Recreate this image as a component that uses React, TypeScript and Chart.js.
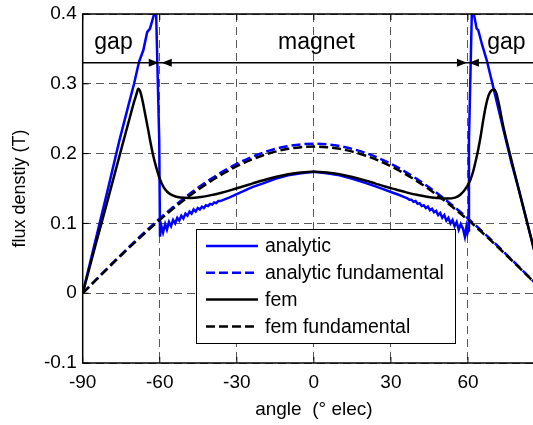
import React, { useEffect, useRef } from 'react';
import { Chart, registerables } from 'chart.js';

Chart.register(...registerables);

// ---------- data ----------
const seriesNames = ['analytic', 'analytic fundamental', 'fem', 'fem fundamental'];

const xTickValues = [-90, -60, -30, 0, 30, 60, 90];
const yTickValues = [-0.1, 0, 0.1, 0.2, 0.3, 0.4];

const analyticAngles = [
  -90, -85, -80, -75.7, -72, -70, -68.1, -66.4, -64.9, -63.8, -62.1, -61.8, -61.4, -60.2, -59.9,
  -59.4, -58.7, -57.9, -57.2, -56.4, -55.6, -54.8, -54.0, -53.2, -52.4, -51.6, -50.8, -50.0,
  -49.2, -48.4, -47.6, -46.8, -46.0, -45.2, -44.4, -43.6, -42.8, -42.0, -41.2, -40.4, -39.6,
  -38.8, -38.0, -37.2, -36.4, -35.0, -33, -30, -27, -24, -20, -15, -10, -5, 0,
  5, 10, 15, 20, 24, 27, 30, 33, 35, 36.4, 37.2, 38.0, 38.8, 39.6, 40.4, 41.2, 42.0, 42.8,
  43.6, 44.4, 45.2, 46.0, 46.8, 47.6, 48.4, 49.2, 50.0, 50.8, 51.6, 52.4, 53.2, 54.0, 54.8,
  55.6, 56.4, 57.2, 58.1, 58.8, 59.4, 59.8, 60.1, 60.4, 61.5, 61.9, 62.3, 63.4, 64.0, 65.5,
  67.3, 69.8, 73.7, 77, 80, 85, 90,
];
const analyticValues = [
  0, 0.076, 0.152, 0.219, 0.272, 0.300, 0.331, 0.348, 0.374, 0.379, 0.401, 0.42, 0.40, 0.219, 0.081,
  0.097, 0.087, 0.099, 0.091, 0.102, 0.096, 0.105, 0.100, 0.108, 0.104, 0.111, 0.107, 0.114,
  0.111, 0.117, 0.114, 0.120, 0.117, 0.122, 0.120, 0.124, 0.122, 0.126, 0.125, 0.128, 0.127,
  0.130, 0.129, 0.132, 0.132, 0.134, 0.137, 0.142, 0.147, 0.152, 0.157, 0.164, 0.169, 0.172, 0.174,
  0.172, 0.169, 0.164, 0.158, 0.153, 0.149, 0.145, 0.141, 0.138, 0.136, 0.134, 0.134, 0.131, 0.132, 0.128,
  0.129, 0.125, 0.126, 0.122, 0.124, 0.119, 0.121, 0.116, 0.118, 0.112, 0.115, 0.108, 0.112, 0.104,
  0.108, 0.100, 0.105, 0.096, 0.102, 0.091, 0.099, 0.092, 0.081, 0.095, 0.086, 0.09, 0.219, 0.40,
  0.42, 0.40, 0.379, 0.377, 0.356, 0.334, 0.296, 0.236, 0.186, 0.146, 0.073, 0,
];

const femAngles = [
  -90, -85, -80, -75, -72, -70, -69, -68.4, -67.6, -66.6, -65.5, -64.5, -63.5, -62.6, -61.5, -60,
  -58.5, -57, -55, -52, -48, -44, -40, -36, -32, -28, -24, -20, -15, -10, -5, 0,
  5, 10, 15, 20, 24, 28, 32, 36, 40, 44, 48, 51.7, 55, 57, 59.5, 61, 62, 63, 64, 65, 66, 67, 68,
  69, 70.2, 71, 72, 73.7, 76.3, 80, 85, 90,
];
const femValues = [
  0, 0.069, 0.137, 0.206, 0.247, 0.274, 0.286, 0.293, 0.289, 0.274, 0.253, 0.234, 0.214, 0.198, 0.182, 0.164,
  0.152, 0.145, 0.140, 0.137, 0.1365, 0.1378, 0.1405, 0.1440, 0.1480, 0.1525, 0.1570, 0.1615, 0.1665, 0.1705, 0.1730, 0.174,
  0.1730, 0.1705, 0.1665, 0.1615, 0.1570, 0.1525, 0.1485, 0.1445, 0.1410, 0.1383, 0.1365, 0.1356, 0.137, 0.141, 0.152, 0.163, 0.174, 0.189, 0.206, 0.226, 0.249, 0.269, 0.283,
  0.290, 0.292, 0.287, 0.272, 0.240, 0.200, 0.145, 0.073, 0,
];

const fundAngles = [
  -90, -85, -80, -75, -70, -65, -60, -55, -50, -45, -40, -35, -30, -25, -20, -15, -10, -5, 0,
  5, 10, 15, 20, 25, 30, 35, 40, 45, 50, 55, 60, 65, 70, 75, 80, 85, 90,
];
const analyticFundValues = [
  0, 0.0187, 0.0372, 0.0554, 0.0732, 0.0904, 0.107, 0.1227, 0.1376, 0.1513, 0.1639, 0.1753, 0.1853,
  0.1939, 0.2011, 0.2067, 0.2107, 0.2132, 0.214,
  0.2132, 0.2107, 0.2067, 0.2011, 0.1939, 0.1853, 0.1753, 0.1639, 0.1513, 0.1376, 0.1227, 0.107,
  0.0904, 0.0732, 0.0554, 0.0372, 0.0187, 0,
];
const femFundValues = [
  0, 0.0183, 0.0365, 0.0544, 0.0718, 0.0887, 0.105, 0.1205, 0.135, 0.1485, 0.1609, 0.172, 0.1819,
  0.1903, 0.1973, 0.2028, 0.2068, 0.2092, 0.21,
  0.2092, 0.2068, 0.2028, 0.1973, 0.1903, 0.1819, 0.172, 0.1609, 0.1485, 0.135, 0.1205, 0.105,
  0.0887, 0.0718, 0.0544, 0.0365, 0.0183, 0,
];

// region annotations
const regionLabels = ['gap', 'magnet', 'gap'];
const regionBounds = [-90, -60, 60, 90];
const regionLabelCenters = [-78, 1, 75];
const regionArrowLevel = 0.33;
const regionLabelLevel = 0.35;

// ---------- styles ----------
const FONT = "'Liberation Sans', Arial, Helvetica, sans-serif";
const GRID = 'rgba(60,60,60,0.85)';

const zip = (xs: number[], ys: number[]) => xs.map((x, i) => ({ x, y: ys[i] }));

const decorPlugin = {
  id: 'decor',
  afterDatasetsDraw(chart: any) {
    const { ctx, chartArea: a, scales } = chart;
    const xs = scales.x;
    const ys = scales.y;
    ctx.save();
    // frame
    ctx.strokeStyle = '#000';
    ctx.lineWidth = 1.5;
    ctx.setLineDash([]);
    ctx.strokeRect(a.left, a.top, a.right - a.left, a.bottom - a.top);
    // inner ticks
    ctx.lineWidth = 1;
    const tl = 6;
    xTickValues.forEach((v) => {
      const px = xs.getPixelForValue(v);
      ctx.beginPath();
      ctx.moveTo(px, a.bottom); ctx.lineTo(px, a.bottom - tl);
      ctx.moveTo(px, a.top); ctx.lineTo(px, a.top + tl);
      ctx.stroke();
    });
    yTickValues.forEach((v) => {
      const py = ys.getPixelForValue(v);
      ctx.beginPath();
      ctx.moveTo(a.left, py); ctx.lineTo(a.left + tl, py);
      ctx.moveTo(a.right, py); ctx.lineTo(a.right - tl, py);
      ctx.stroke();
    });
    // arrows
    const ay = ys.getPixelForValue(regionArrowLevel);
    ctx.lineWidth = 1.5;
    ctx.beginPath();
    ctx.moveTo(xs.getPixelForValue(regionBounds[0]), ay);
    ctx.lineTo(xs.getPixelForValue(regionBounds[regionBounds.length - 1]), ay);
    ctx.stroke();
    const head = (tipX: number, dir: number) => {
      ctx.beginPath();
      ctx.moveTo(tipX, ay);
      ctx.lineTo(tipX - dir * 10, ay - 4);
      ctx.lineTo(tipX - dir * 10, ay + 4);
      ctx.closePath();
      ctx.fill();
    };
    ctx.fillStyle = '#000';
    const b1 = xs.getPixelForValue(regionBounds[1]);
    const b2 = xs.getPixelForValue(regionBounds[2]);
    head(b1 - 1, 1);
    head(b1 + 2, -1);
    head(b2 - 1, 1);
    head(b2 + 1, -1);
    // labels
    ctx.font = `23px ${FONT}`;
    ctx.textAlign = 'center';
    ctx.textBaseline = 'alphabetic';
    const ly = ys.getPixelForValue(regionLabelLevel);
    regionLabels.forEach((t, i) => {
      ctx.fillText(t, xs.getPixelForValue(regionLabelCenters[i]), ly);
    });
    ctx.restore();
  },
  afterDraw(chart: any) {
    const { ctx } = chart;
    ctx.save();
    const lx = 188, ly = 229, lw = 259, lh = 114;
    ctx.fillStyle = '#fff';
    ctx.fillRect(lx, ly, lw, lh);
    ctx.strokeStyle = '#000';
    ctx.lineWidth = 1;
    ctx.setLineDash([]);
    ctx.strokeRect(lx + 0.5, ly + 0.5, lw, lh);
    ctx.font = `19.5px ${FONT}`;
    ctx.textBaseline = 'middle';
    ctx.textAlign = 'left';
    chart.data.datasets.forEach((ds: any, i: number) => {
      const ry = ly + 17 + i * 26.8;
      ctx.strokeStyle = ds.borderColor;
      ctx.lineWidth = ds.borderWidth;
      ctx.setLineDash(ds.borderDash || []);
      ctx.beginPath();
      ctx.moveTo(lx + 10, ry);
      ctx.lineTo(lx + 62, ry);
      ctx.stroke();
      ctx.setLineDash([]);
      ctx.fillStyle = '#000';
      ctx.fillText(ds.label, lx + 69, ry + 1);
    });
    ctx.restore();
  },
};

export default function App() {
  const ref = useRef<HTMLCanvasElement | null>(null);

  useEffect(() => {
    document.documentElement.style.overflow = 'hidden';
    const canvas = ref.current;
    if (!canvas) return;
    const tickFont = { family: FONT, size: 19 };
    const chart = new Chart(canvas, {
      type: 'line',
      data: {
        datasets: [
          {
            label: seriesNames[0],
            data: zip(analyticAngles, analyticValues),
            borderColor: '#0000ff',
            borderWidth: 2.5,
            pointRadius: 0,
            tension: 0,
            order: 4,
          },
          {
            label: seriesNames[1],
            data: zip(fundAngles, analyticFundValues),
            borderColor: '#0000ff',
            borderWidth: 2.5,
            borderDash: [9, 4],
            pointRadius: 0,
            cubicInterpolationMode: 'monotone',
            order: 3,
          },
          {
            label: seriesNames[2],
            data: zip(femAngles, femValues),
            borderColor: '#000000',
            borderWidth: 2.5,
            pointRadius: 0,
            cubicInterpolationMode: 'monotone',
            order: 2,
          },
          {
            label: seriesNames[3],
            data: zip(fundAngles, femFundValues),
            borderColor: '#000000',
            borderWidth: 2.5,
            borderDash: [9, 4],
            pointRadius: 0,
            cubicInterpolationMode: 'monotone',
            order: 1,
          },
        ],
      },
      options: {
        animation: false,
        responsive: false,
        maintainAspectRatio: false,
        layout: { padding: { left: 0, top: 14, right: 23, bottom: 0 } },
        plugins: { legend: { display: false }, tooltip: { enabled: false } },
        scales: {
          x: {
            type: 'linear',
            min: -90,
            max: 90,
            afterBuildTicks: (s: any) => {
              s.ticks = xTickValues.map((v) => ({ value: v }));
            },
            afterFit: (s: any) => {
              s.height = 62;
              s.paddingLeft = 0;
              s.paddingRight = 0;
            },
            ticks: {
              color: '#000',
              font: tickFont,
              padding: 8,
              maxRotation: 0,
              autoSkip: false,
              callback: (v: any) => String(v),
            },
            grid: { color: GRID, lineWidth: 1, drawTicks: false },
            border: { display: false, dash: [8, 5] },
            title: {
              display: true,
              text: 'angle  (° elec)',
              color: '#000',
              font: tickFont,
              padding: { top: 0, bottom: 4 },
            },
          },
          y: {
            type: 'linear',
            min: -0.1,
            max: 0.4,
            afterBuildTicks: (s: any) => {
              s.ticks = yTickValues.map((v) => ({ value: v }));
            },
            afterFit: (s: any) => {
              s.width = 74.7;
              s.paddingTop = 0;
              s.paddingBottom = 0;
            },
            ticks: {
              color: '#000',
              font: tickFont,
              padding: 6,
              callback: (v: any) => String(Math.round(Number(v) * 10) / 10),
            },
            grid: { color: GRID, lineWidth: 1, drawTicks: false },
            border: { display: false, dash: [8, 5] },
            title: {
              display: true,
              text: 'flux denstiy (T)',
              color: '#000',
              font: { family: FONT, size: 18 },
              padding: { top: 1, bottom: 0 },
            },
          },
        },
      },
      plugins: [decorPlugin],
    } as any);
    return () => chart.destroy();
  }, []);

  return (
    <div
      style={{
        position: 'fixed',
        left: 0,
        top: 0,
        width: 533,
        height: 425,
        overflow: 'hidden',
        background: '#fff',
      }}
    >
      <canvas
        ref={ref}
        width={560}
        height={425}
        style={{ display: 'block', marginLeft: 8 }}
      />
    </div>
  );
}
